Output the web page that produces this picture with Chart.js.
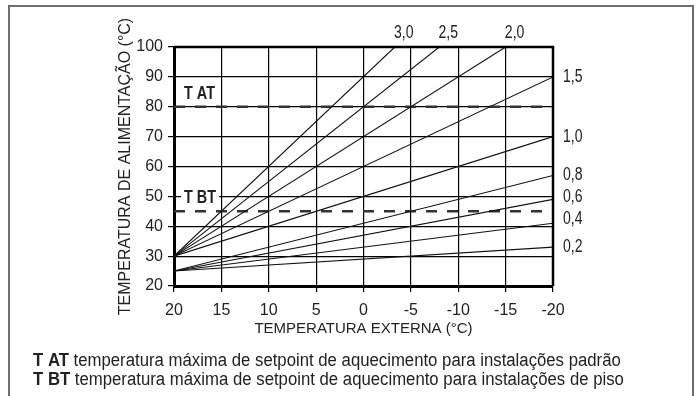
<!DOCTYPE html>
<html lang="pt">
<head>
  <meta charset="UTF-8">
  <title>Curvas de aquecimento</title>
  <script src="https://cdn.jsdelivr.net/npm/chart.js"></script>
  <style>
    body { margin: 0; background: #fff; }
    canvas { display: block; }
  </style>
</head>
<body>
<canvas id="curveChart" width="699" height="396"></canvas>
<script>
// heating curves: slope labels and their start / end points (outdoor T, flow T)
const curveLabels = ['3,0', '2,5', '2,0', '1,5', '1,0', '0,8', '0,6', '0,4', '0,2'];
const curveStartX = [20, 20, 20, 20, 20, 20, 20, 20, 20];
const curveStartY = [30, 30, 30, 30, 30, 25, 25, 25, 25];
const curveEndX = [-3.3, -8, -15, -20, -20, -20, -20, -20, -20];
const curveEndY = [100, 100, 100, 90, 70, 57, 49, 41, 33];

const xTicks = [20, 15, 10, 5, 0, -5, -10, -15, -20];
const yTicks = [20, 30, 40, 50, 60, 70, 80, 90, 100];

// max setpoint lines
const limitNames = ['T AT', 'T BT'];
const limitValues = [80, 45];
const limitNotes = [
  'temperatura máxima de setpoint de aquecimento para instalações padrão',
  'temperatura máxima de setpoint de aquecimento para instalações de piso'
];

const FONT = "'Liberation Sans', Arial, sans-serif";

const datasets = [];
curveLabels.forEach((lab, i) => {
  datasets.push({
    label: lab,
    data: [{x: curveStartX[i], y: curveStartY[i]}, {x: curveEndX[i], y: curveEndY[i]}],
    borderColor: '#111',
    borderWidth: 1.1,
    pointRadius: 0,
    tension: 0
  });
});
limitNames.forEach((n, i) => {
  datasets.push({
    label: n,
    data: [{x: xTicks[0], y: limitValues[i]}, {x: xTicks[xTicks.length - 1], y: limitValues[i]}],
    borderColor: '#333',
    borderWidth: 2.5,
    borderDash: [11, 10],
    pointRadius: 0
  });
});

// squeezed text, to look like the narrow face of the original
function narrowText(ctx, txt, px, py, sx, align) {
  const w = ctx.measureText(txt).width * sx;
  let x0 = px;
  if (align === 'center') x0 = px - w / 2;
  ctx.save();
  ctx.translate(x0, py);
  ctx.scale(sx, 1);
  ctx.textAlign = 'left';
  ctx.fillText(txt, 0, 0);
  ctx.restore();
  return w;
}

const decor = {
  id: 'decor',
  beforeDraw(chart) {
    const ctx = chart.ctx;
    ctx.save();
    ctx.fillStyle = '#fff';
    ctx.fillRect(0, 0, chart.width, chart.height);
    ctx.restore();
  },
  afterDraw(chart) {
    const {ctx, chartArea: a, scales: {x, y}} = chart;
    ctx.save();
    // outer frame
    ctx.strokeStyle = '#6e6e6e';
    ctx.lineWidth = 2;
    ctx.strokeRect(9, 6, 684, 420);

    // top and right border of plot
    ctx.strokeStyle = '#000';
    ctx.lineWidth = 2.5;
    ctx.beginPath();
    ctx.moveTo(a.left, a.top); ctx.lineTo(a.right, a.top); ctx.lineTo(a.right, a.bottom);
    ctx.stroke();

    // curve labels
    ctx.fillStyle = '#222';
    ctx.font = '18px ' + FONT;
    ctx.textBaseline = 'middle';
    const nudge = {'0,6': -2, '0,4': -4};
    curveLabels.forEach((lab, i) => {
      const px = x.getPixelForValue(curveEndX[i]);
      const py = y.getPixelForValue(curveEndY[i]);
      if (curveEndY[i] >= 100) {
        narrowText(ctx, lab, px + 9, a.top - 14, 0.78, 'center');
      } else {
        narrowText(ctx, lab, a.right + 10, py + (nudge[lab] || 0), 0.78, 'left');
      }
    });

    // limit labels
    ctx.font = 'bold 18px ' + FONT;
    limitNames.forEach((n, i) => {
      const py = y.getPixelForValue(limitValues[i]) - 13;
      const w = ctx.measureText(n).width * 0.8;
      ctx.fillStyle = '#fff';
      ctx.fillRect(a.left + 7, py - 9, w + 6, 18);
      ctx.fillStyle = '#222';
      narrowText(ctx, n, a.left + 10, py, 0.8, 'left');
    });

    // notes below
    ctx.textBaseline = 'alphabetic';
    limitNames.forEach((n, i) => {
      const by = 366 + i * 19;
      ctx.fillStyle = '#222';
      ctx.font = 'bold 18px ' + FONT;
      const w = narrowText(ctx, n + ' ', 33, by, 0.93, 'left');
      ctx.font = '18px ' + FONT;
      narrowText(ctx, limitNotes[i], 33 + w, by, 0.93, 'left');
    });
    ctx.restore();
  }
};

new Chart(document.getElementById('curveChart').getContext('2d'), {
  type: 'line',
  data: { datasets },
  options: {
    responsive: false,
    animation: false,
    layout: { padding: { left: 116, right: 146, top: 47, bottom: 58 } },
    plugins: { legend: { display: false }, tooltip: { enabled: false } },
    scales: {
      x: {
        type: 'linear',
        reverse: true,
        min: -20,
        max: 20,
        afterFit: s => { s.height = 52; },
        afterBuildTicks: s => { s.ticks = xTicks.map(v => ({value: v})); },
        ticks: {
          color: '#222',
          font: { family: FONT, size: 16 },
          padding: 9,
          maxRotation: 0,
          autoSkip: false,
          callback: v => String(v)
        },
        grid: { color: '#000', lineWidth: 1.2, tickColor: '#000', tickLength: 6 },
        border: { color: '#000', width: 3 },
        title: {
          display: true,
          text: 'TEMPERATURA EXTERNA (°C)',
          color: '#222',
          font: { family: FONT, size: 15 },
          padding: 0
        }
      },
      y: {
        min: 20,
        max: 100,
        afterFit: s => { s.width = 58; },
        afterBuildTicks: s => { s.ticks = yTicks.map(v => ({value: v})); },
        ticks: {
          color: '#222',
          font: { family: FONT, size: 16 },
          padding: 5,
          autoSkip: false
        },
        grid: { color: '#000', lineWidth: 1.2, tickColor: '#000', tickLength: 6 },
        border: { color: '#000', width: 3 },
        title: {
          display: true,
          text: 'TEMPERATURA DE ALIMENTAÇÃO (°C)',
          color: '#222',
          font: { family: FONT, size: 16 },
          padding: 0
        }
      }
    }
  },
  plugins: [decor]
});
</script>
</body>
</html>
